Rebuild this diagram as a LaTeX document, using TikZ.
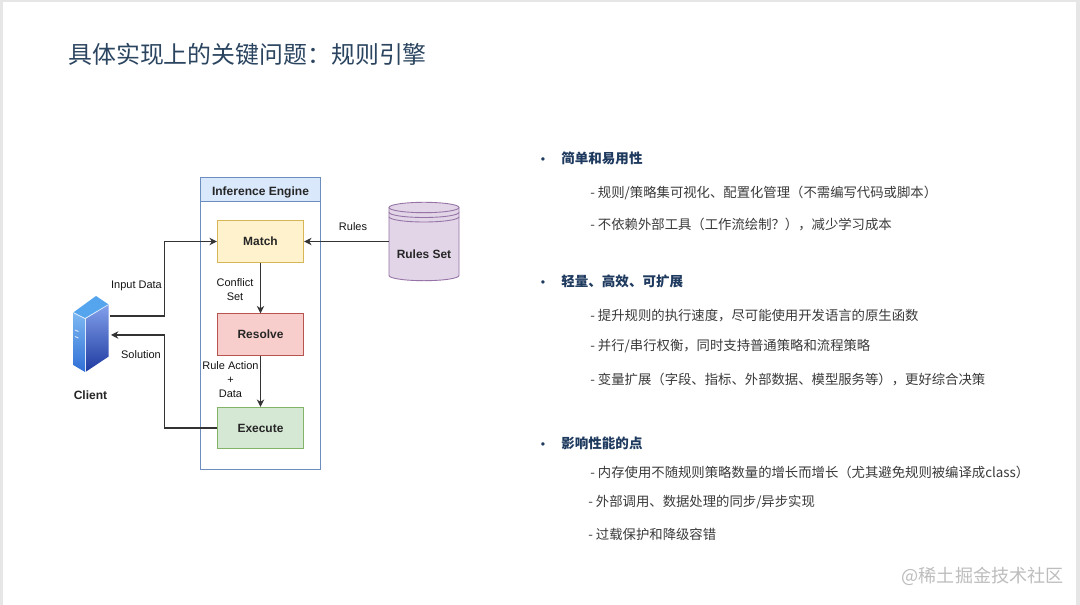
\documentclass[tikz,border=0pt]{standalone}
\usepackage{fontspec}
\setmainfont{Liberation Sans}
\newfontfamily\cjkfont{Noto Sans CJK SC}
\definecolor{pagegray}{HTML}{E6E6E6}
\definecolor{titlenavy}{HTML}{2B4560}
\definecolor{headnavy}{HTML}{1F3A5F}
\definecolor{bodygray}{HTML}{3A3A3A}
\definecolor{markgray}{HTML}{BDBDBD}
\definecolor{linegray}{HTML}{333333}
\definecolor{engineblue}{HTML}{6C8EBF}
\definecolor{enginefill}{HTML}{DAE8FC}
\definecolor{matchfill}{HTML}{FFF2CC}
\definecolor{matchline}{HTML}{D6B656}
\definecolor{resolvefill}{HTML}{F8CECC}
\definecolor{resolveline}{HTML}{B85450}
\definecolor{executefill}{HTML}{D5E8D4}
\definecolor{executeline}{HTML}{82B366}
\definecolor{rulesfill}{HTML}{E1D5E7}
\definecolor{rulesline}{HTML}{9673A6}
\definecolor{iconlefttop}{HTML}{7DB8F2}
\definecolor{iconleftbot}{HTML}{2F6FD6}
\definecolor{iconrighttop}{HTML}{82A0EB}
\definecolor{iconrightbot}{HTML}{1E3AA0}
\definecolor{icontop}{HTML}{54A5EE}
\definecolor{iconedge}{HTML}{DCE9FB}
\usetikzlibrary{arrows.meta,positioning}

\begin{document}
\begin{tikzpicture}[
  stagebox/.style={draw,minimum width=1.73cm,minimum height=0.83cm,font=\fontsize{6.8}{8}\selectfont\bfseries,text=black!85,line width=0.5pt},
  flowlabel/.style={align=center,inner sep=0pt,font=\fontsize{6.25}{8.2}\selectfont,text=black!92},
  flowline/.style={draw=linegray,line width=0.6pt,-{Stealth[length=4.2pt,width=4.2pt]}},
  headline/.style={anchor=west,inner sep=0pt,font=\cjkfont\bfseries\fontsize{7.7}{9}\selectfont,text=headnavy},
  bodyline/.style={anchor=west,inner sep=0pt,font=\cjkfont\fontsize{7.6}{9}\selectfont,text=bodygray},
  bulletdot/.style={inner sep=0pt,font=\fontsize{7}{8}\selectfont,text=headnavy}
]
  % Page
  \useasboundingbox (0,0) rectangle (21.6,12.1);
  \fill[pagegray] (0,0) rectangle (21.6,12.1);
  \fill[white] (0.06,0) rectangle (21.52,12.06);
  \node[anchor=west,inner sep=0pt,font=\cjkfont\fontsize{13.6}{16}\selectfont,text=titlenavy] (title) at (1.36,11.02) {具体实现上的关键问题：规则引擎};

  % Inference Engine
  \node[draw=engineblue,fill=white,line width=0.5pt,minimum width=2.41cm,minimum height=5.8cm] (engine) at (5.21,5.62) {};
  \node[draw=engineblue,fill=enginefill,line width=0.5pt,minimum width=2.41cm,minimum height=0.42cm,text height=6.6pt,text depth=0pt,font=\fontsize{6.85}{8}\selectfont\bfseries,text=black!85] (enginehead) at (5.21,8.31) {Inference Engine};
  \node[stagebox,fill=matchfill,draw=matchline] (match) at (5.21,7.27) {Match};
  \node[stagebox,fill=resolvefill,draw=resolveline] (resolve) at (5.21,5.41) {Resolve};
  \node[stagebox,fill=executefill,draw=executeline] (execute) at (5.21,3.54) {Execute};

  % Rules Set
  \node[minimum width=1.4cm,minimum height=1.58cm,inner sep=0pt,outer sep=0pt] (rulesset) at (8.48,7.27) {};
  \draw[rulesline,fill=rulesfill,line width=0.5pt] (7.78,7.95) -- (7.78,6.59) arc[start angle=180,end angle=360,x radius=0.7,y radius=0.104] -- (9.18,7.95) arc[start angle=0,end angle=180,x radius=0.7,y radius=0.104] -- cycle;
  \draw[rulesline,line width=0.5pt] (7.78,7.95) arc[start angle=180,end angle=360,x radius=0.7,y radius=0.104];
  \draw[rulesline,line width=0.5pt] (7.78,7.854) arc[start angle=180,end angle=360,x radius=0.7,y radius=0.104];
  \draw[rulesline,line width=0.5pt] (7.78,7.764) arc[start angle=180,end angle=360,x radius=0.7,y radius=0.104];
  \node[inner sep=0pt,font=\fontsize{6.8}{8}\selectfont\bfseries,text=black!85] (ruleslabel) at (8.48,7.02) {Rules Set};

  % Client
  \shade[top color=iconlefttop,bottom color=iconleftbot] (1.466,4.80) -- (1.466,5.84) -- (1.70,5.72) -- (1.70,4.66) -- cycle;
  \shade[top color=iconrighttop,bottom color=iconrightbot] (1.71,4.66) -- (1.71,5.72) -- (2.174,6.01) -- (2.174,4.97) -- cycle;
  \fill[icontop] (1.466,5.85) -- (1.92,6.18) -- (2.174,6.01) -- (1.70,5.73) -- cycle;
  \draw[iconedge,line width=0.4pt] (1.466,5.85) -- (1.70,5.73) -- (2.174,6.01);
  \draw[iconedge,line width=0.4pt] (1.70,5.73) -- (1.70,4.66);
  \draw[iconedge,line width=0.5pt] (1.50,5.50) -- (1.57,5.47);
  \draw[iconedge,line width=0.5pt] (1.50,5.37) -- (1.57,5.34);
  \node[inner sep=0pt,font=\fontsize{6.85}{8}\selectfont\bfseries,text=black!85] (client) at (1.81,4.19) {Client};
  \coordinate (clientout) at (2.2,5.78);
  \coordinate (clientin) at (2.22,5.4);

  % Connectors
  \draw[flowline] (clientout) -- ++(1.09,0) |- (match.west);
  \draw[flowline] (execute.west) -- ++(-1.04,0) |- (clientin);
  \draw[flowline] (match) -- (resolve);
  \draw[flowline] (resolve) -- (execute);
  \draw[flowline] (rulesset.west) -- (match.east);
  \node[flowlabel] (inputlabel) at (2.73,6.38) {Input Data};
  \node[flowlabel] (solutionlabel) at (2.82,5.01) {Solution};
  \node[flowlabel] (conflictlabel) at (4.70,6.31) {Conflict\\Set};
  \node[flowlabel] (actionlabel) at (4.61,4.51) {Rule Action\\+\\Data};
  \node[flowlabel] (ruleslink) at (7.06,7.56) {Rules};

  % Simple and easy to use
  \node[bulletdot] (bulletone) at (10.86,8.88) {•};
  \node[headline] (headone) at (11.22,8.94) {简单和易用性};
  \node[bodyline] (itemoneone) at (11.8,8.24) {- 规则/策略集可视化、配置化管理（不需编写代码或脚本）};
  \node[bodyline] (itemonetwo) at (11.8,7.6) {- 不依赖外部工具（工作流绘制？），减少学习成本};

  % Light, efficient, extensible
  \node[bulletdot] (bullettwo) at (10.86,6.42) {•};
  \node[headline] (headtwo) at (11.22,6.48) {轻量、高效、可扩展};
  \node[bodyline] (itemtwoone) at (11.8,5.78) {- 提升规则的执行速度，尽可能使用开发语言的原生函数};
  \node[bodyline] (itemtwotwo) at (11.8,5.18) {- 并行/串行权衡，同时支持普通策略和流程策略};
  \node[bodyline] (itemtwothree) at (11.8,4.5) {- 变量扩展（字段、指标、外部数据、模型服务等），更好综合决策};

  % Performance points
  \node[bulletdot] (bulletthree) at (10.86,3.18) {•};
  \node[headline] (headthree) at (11.22,3.24) {影响性能的点};
  \node[bodyline] (itemthreeone) at (11.8,2.65) {- 内存使用不随规则策略数量的增长而增长（尤其避免规则被编译成class）};
  \node[bodyline] (itemthreetwo) at (11.76,2.06) {- 外部调用、数据处理的同步/异步实现};
  \node[bodyline] (itemthreethree) at (11.76,1.41) {- 过载保护和降级容错};

  % Watermark
  \node[anchor=east,inner sep=0pt,font=\cjkfont\fontsize{10.3}{12}\selectfont,text=markgray] (watermark) at (21.28,0.57) {@稀土掘金技术社区};
\end{tikzpicture}
\end{document}
